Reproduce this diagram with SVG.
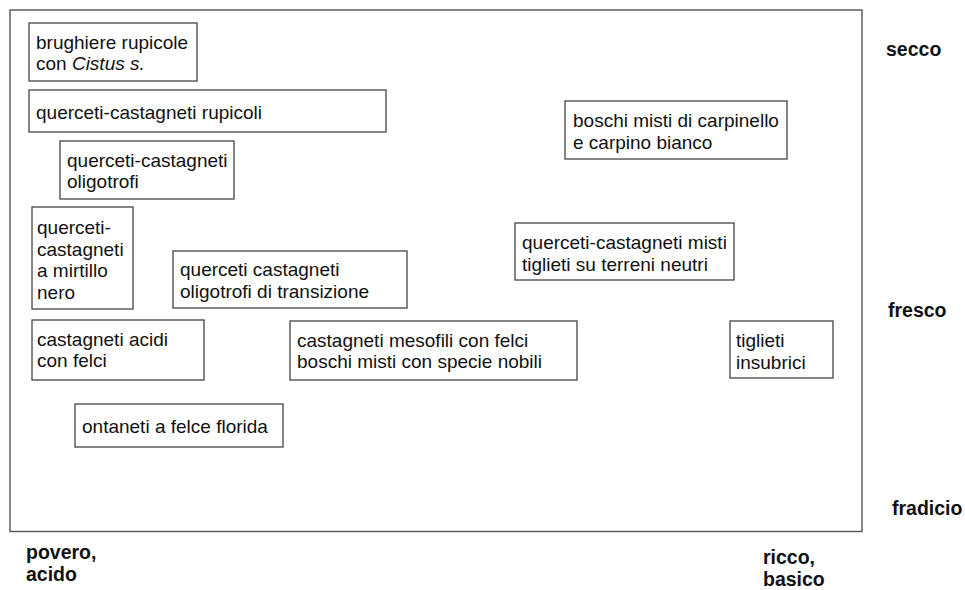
<svg xmlns="http://www.w3.org/2000/svg" width="965" height="590" viewBox="0 0 965 590">
<style>
.frame{fill:none;stroke:#555;stroke-width:1.4}
.box{fill:#fff;stroke:#444;stroke-width:1.3}
.t{font-family:"Liberation Sans",Arial,sans-serif;font-size:19px;fill:#111}
.b{font-family:"Liberation Sans",Arial,sans-serif;font-size:19.5px;font-weight:bold;fill:#111}
</style>
<rect width="965" height="590" fill="#fff"/>
<rect class="frame" x="10" y="10" width="852" height="521.5"/>
<g id="connectors"></g>
<g id="n1"><rect class="box" x="29" y="23" width="168" height="58"/><text class="t" x="36" y="48.5">brughiere rupicole</text><text class="t" x="36" y="70">con <tspan font-style="italic">Cistus s.</tspan></text></g>
<g id="n2"><rect class="box" x="29" y="90" width="357" height="42"/><text class="t" x="36" y="119">querceti-castagneti rupicoli</text></g>
<g id="n3"><rect class="box" x="60" y="141" width="174" height="58"/><text class="t" x="67" y="166.5">querceti-castagneti</text><text class="t" x="67" y="188">oligotrofi</text></g>
<g id="n4"><rect class="box" x="32" y="207" width="101" height="102"/><text class="t" x="37" y="234">querceti-</text><text class="t" x="37" y="255.5">castagneti</text><text class="t" x="37" y="277">a mirtillo</text><text class="t" x="37" y="298.5">nero</text></g>
<g id="n5"><rect class="box" x="173" y="251" width="234" height="57"/><text class="t" x="180" y="276">querceti castagneti</text><text class="t" x="180" y="297.5">oligotrofi di transizione</text></g>
<g id="n6"><rect class="box" x="32" y="320" width="172" height="60"/><text class="t" x="37" y="345.5">castagneti acidi</text><text class="t" x="37" y="367">con felci</text></g>
<g id="n7"><rect class="box" x="75" y="404" width="208" height="43"/><text class="t" x="82" y="433">ontaneti a felce florida</text></g>
<g id="n8"><rect class="box" x="290" y="321" width="287" height="59"/><text class="t" x="297" y="346.5">castagneti mesofili con felci</text><text class="t" x="297" y="368">boschi misti con specie nobili</text></g>
<g id="n9"><rect class="box" x="565" y="101" width="222" height="58"/><text class="t" x="573" y="127">boschi misti di carpinello</text><text class="t" x="573" y="148.5">e carpino bianco</text></g>
<g id="n10"><rect class="box" x="515" y="223" width="219" height="57"/><text class="t" x="522" y="249">querceti-castagneti misti</text><text class="t" x="522" y="270.5">tiglieti su terreni neutri</text></g>
<g id="n11"><rect class="box" x="730" y="321" width="103" height="57"/><text class="t" x="736" y="347">tiglieti</text><text class="t" x="736" y="368.5">insubrici</text></g>
<g id="labels">
<text class="b" x="886" y="56">secco</text>
<text class="b" x="888" y="316.5">fresco</text>
<text class="b" x="892" y="515">fradicio</text>
<text class="b" x="26" y="559">povero,</text>
<text class="b" x="26" y="580.5">acido</text>
<text class="b" x="763" y="564">ricco,</text>
<text class="b" x="763" y="585.5">basico</text>
</g>
</svg>
